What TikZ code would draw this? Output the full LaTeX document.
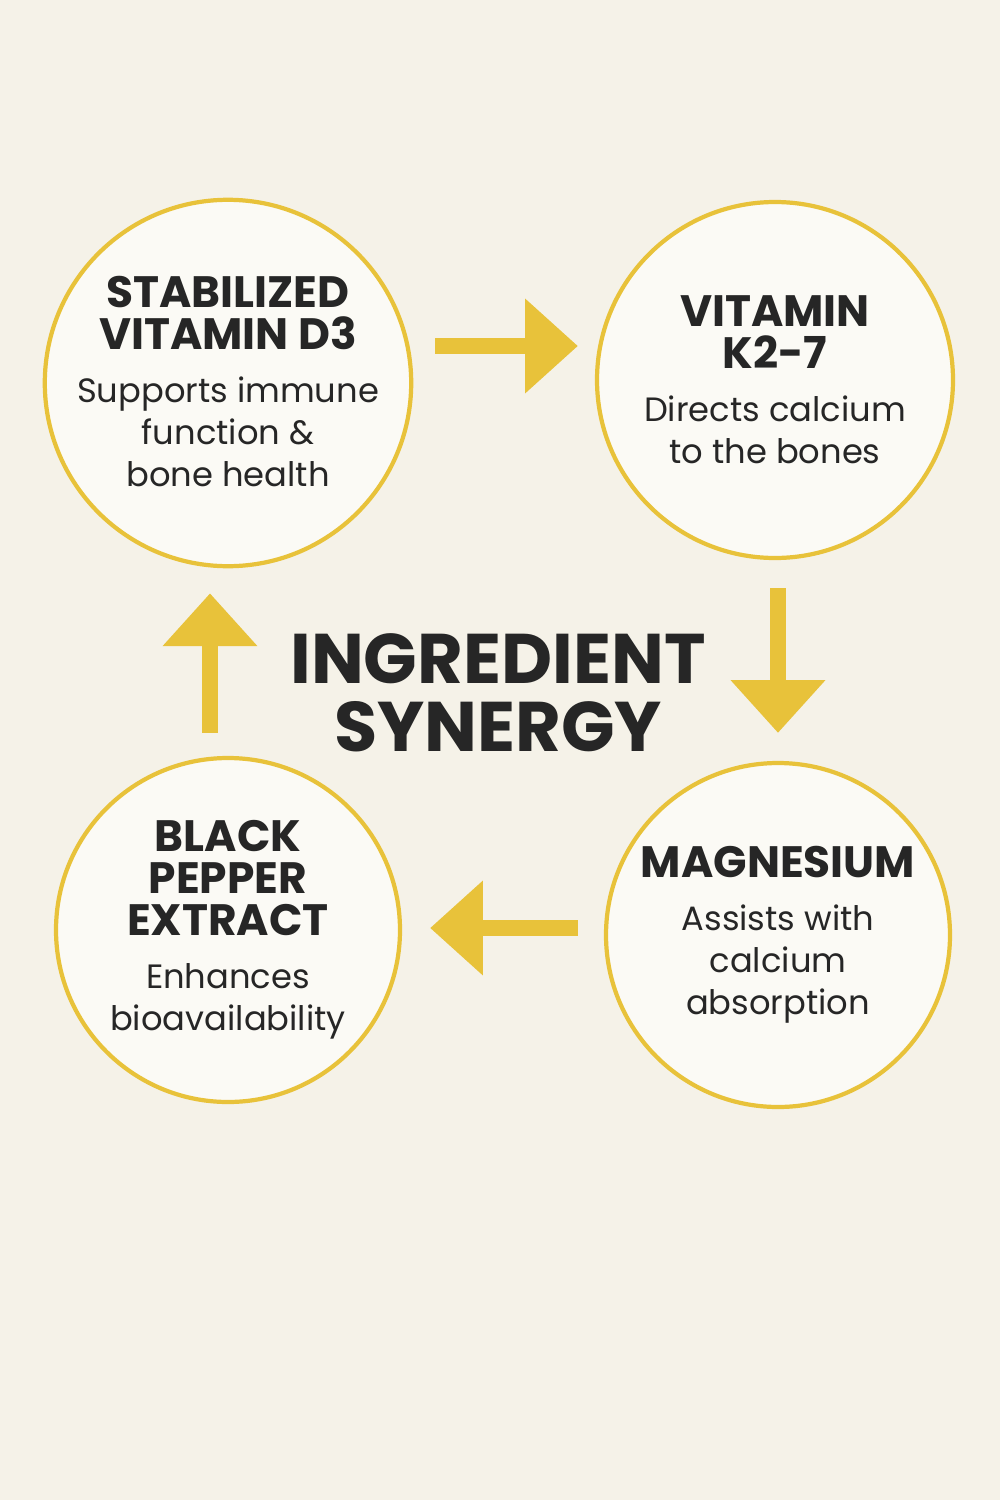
\documentclass[tikz,border=0pt]{standalone}
\usepackage{fontspec}
\setmainfont{Poppins}
\usetikzlibrary{arrows.meta}
\definecolor{bgcream}{HTML}{F5F2E8}
\definecolor{discfill}{HTML}{FBFAF5}
\definecolor{ringgold}{HTML}{E8C23A}
\definecolor{inkdark}{HTML}{262626}
\newcommand{\hdfont}{\fontsize{12.5}{14.3}\selectfont\bfseries}
\newcommand{\bdfont}{\fontsize{9.6}{11.7}\selectfont\mdseries}
\tikzset{
  disc/.style={circle, draw=ringgold, line width=1.2pt, fill=discfill,
    align=center, text=inkdark, inner sep=0pt},
  arr/.style={draw=ringgold, line width=4.6pt,
    -{Triangle[width=26pt, length=15pt]}}
}
\begin{document}
\begin{tikzpicture}[x=0.1mm, y=-0.1mm]
	% background
	\fill[bgcream] (0,0) rectangle (1000,1500);
	% ingredients
	\node[disc, minimum size=36mm] (d3) at (228,383)
	  {\\[-4pt]\hdfont STABILIZED\\\hdfont VITAMIN D3\\[3pt]\bdfont Supports immune\\\bdfont function \&\\\bdfont bone health};
	\node[disc, minimum size=35.6mm] (k2) at (775,380)
	  {\hdfont VITAMIN\\\hdfont K2-7\\[3pt]\bdfont Directs calcium\\\bdfont to the bones};
	\node[disc, minimum size=34.4mm] (mg) at (778,935)
	  {\hdfont MAGNESIUM\\[3pt]\bdfont Assists with\\\bdfont calcium\\\bdfont absorption};
	\node[disc, minimum size=34.4mm] (bp) at (228,930)
	  {\hdfont BLACK\\\hdfont PEPPER\\\hdfont EXTRACT\\[3pt]\bdfont Enhances\\\bdfont bioavailability};
	% title
	\node[text=inkdark, align=center, font=\fontsize{20}{19.4}\selectfont\bfseries] (ttl) at (498,693)
	  {INGREDIENT\\SYNERGY};
	% cycle
	\draw[arr] ([shift={(22,-37)}]d3.east) -- ([shift={(-17,-34)}]k2.west);
	\draw[arr] ([shift={(3,28)}]k2.south) -- ([shift={(0,-28)}]mg.north);
	\draw[arr] ([shift={(-26,-7)}]mg.west) -- ([shift={(28,-2)}]bp.east);
	\draw[arr] ([shift={(-18,-23)}]bp.north) -- ([shift={(-18,25)}]d3.south);
\end{tikzpicture}
\end{document}
